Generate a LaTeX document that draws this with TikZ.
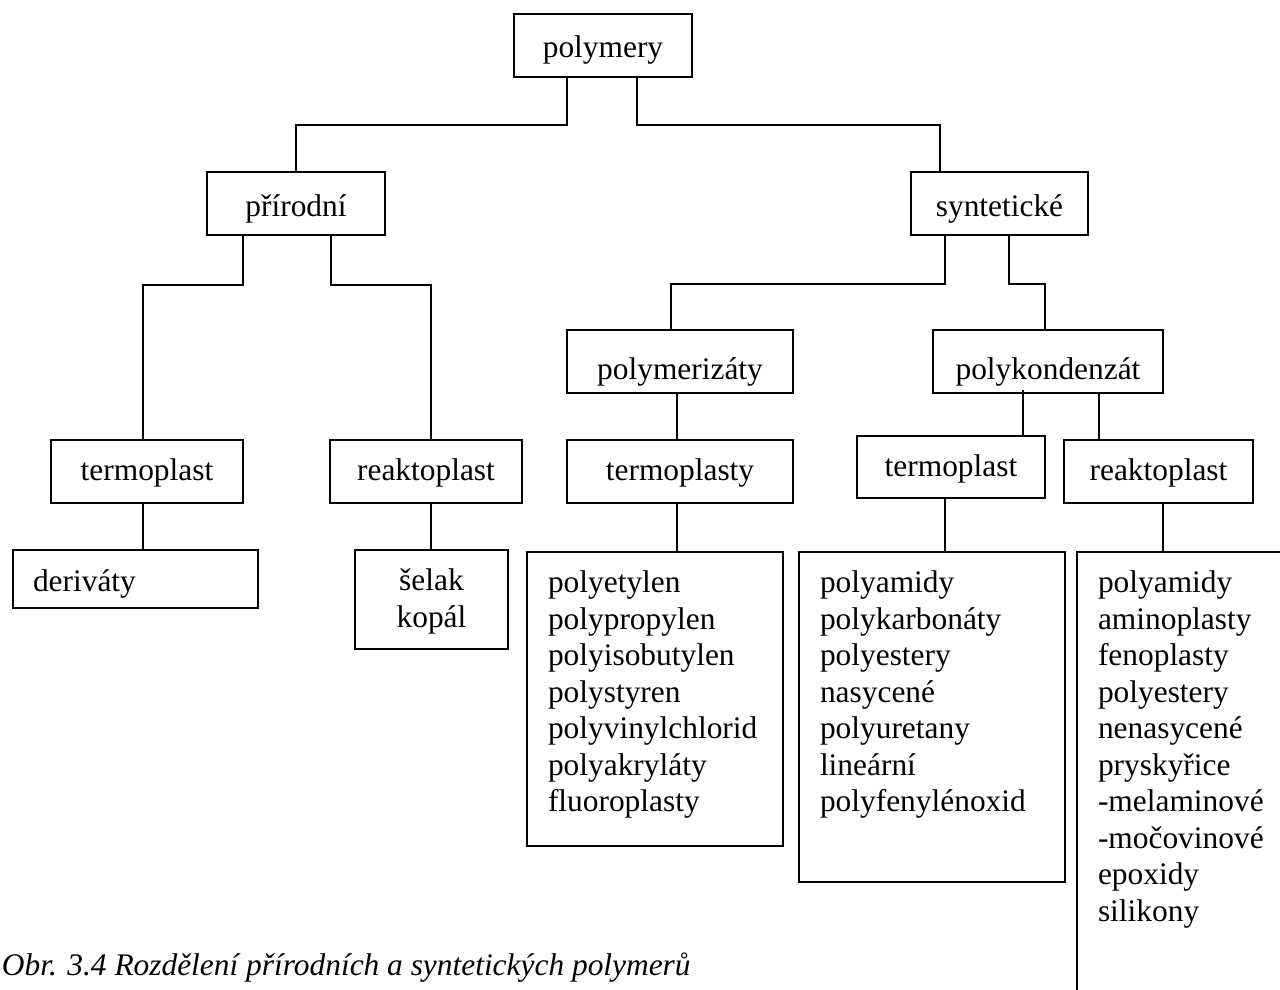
\documentclass[tikz,border=0pt]{standalone}
\usepackage{fontspec}
\setmainfont{Liberation Serif}
\usetikzlibrary{calc}
\newcommand{\boxlist}[3]{\parbox[t][#1][t]{#2}{\raggedright\strut #3}}

\begin{document}
\begin{tikzpicture}[x=0.5pt, y=-0.5pt,
  font=\fontsize{15.7}{18.25}\selectfont, line width=1pt,
  cat/.style={draw, anchor=north, inner sep=0pt, text height=22pt, text depth=9.5pt},
  low/.style={cat, text height=20pt, text depth=11.5pt},
  lst/.style={draw, anchor=north west, inner xsep=10.5pt, inner ysep=7.7pt}]
  \useasboundingbox (0,0) rectangle (1280,990);

  \node[cat, minimum width=89pt] (pol) at (603,13) {polymery};
  \node[cat, minimum width=89pt] (pri) at (296,171) {přírodní};
  \node[cat, minimum width=88.5pt] (syn) at (999.5,171) {syntetické};

  \node[low, minimum width=96pt] (tl) at (147,439) {termoplast};
  \node[low, minimum width=96pt] (rl) at (426,439) {reaktoplast};
  \node[draw, anchor=north west, inner xsep=10pt, inner ysep=0pt, text width=102.5pt,
        align=left, text height=20.5pt, text depth=8.5pt] (der) at (12,549) {deriváty};
  \node[lst, inner xsep=0pt] (sel) at (354,549)
    {\parbox[t][34.1pt][t]{76.5pt}{\centering\strut šelak\\kopál}};

  \node[cat, minimum width=113pt, text height=24.5pt, text depth=7pt] (pmz) at (680,329) {polymerizáty};
  \node[cat, minimum width=115pt, text height=24.5pt, text depth=7pt] (pkd) at (1048,329) {polykondenzát};
  \node[low, minimum width=113pt] (tpy) at (680,439) {termoplasty};
  \node[low, minimum width=94pt, text depth=11pt] (tr) at (951,435) {termoplast};
  \node[low, minimum width=94.5pt] (rr) at (1158.5,439) {reaktoplast};

  \node[lst] (la) at (526,551) {\boxlist{131.6pt}{107pt}{polyetylen\\polypropylen\\polyisobutylen\\polystyren\\polyvinylchlorid\\polyakryláty\\fluoroplasty}};
  \node[lst] (lb) at (798,551) {\boxlist{149.6pt}{112pt}{polyamidy\\polykarbonáty\\polyestery\\nasycené\\polyuretany\\lineární\\polyfenylénoxid}};
  \node[lst] (lc) at (1076,551) {\boxlist{213.6pt}{91pt}{polyamidy\\aminoplasty\\fenoplasty\\polyestery\\nenasycené\\pryskyřice\\-melaminové\\-močovinové\\epoxidy\\silikony}};

  \draw ($(pol.south)+(-36,0)$) -- ++(0,47) -| (pri.north);
  \draw ($(pol.south)+(34,0)$) -- ++(0,47) -| ($(syn.north)+(-60,0)$);
  \draw ($(pri.south)+(-53,0)$) -- ++(0,49) -| ($(tl.north)+(-4,0)$);
  \draw ($(pri.south)+(35,0)$) -- ++(0,49) -| ($(rl.north)+(5,0)$);
  \draw ($(syn.south)+(-54.5,0)$) -- ++(0,48) -| ($(pmz.north)+(-9,0)$);
  \draw ($(syn.south)+(9.5,0)$) -- ++(0,48) -| ($(pkd.north)+(-3,0)$);

  \draw ($(tl.south)+(-4,0)$) coordinate (c1) -- (c1 |- der.north);
  \draw ($(rl.south)+(5,0)$) coordinate (c2) -- (c2 |- sel.north);
  \draw ($(pmz.south)+(-3,0)$) -- ($(tpy.north)+(-3,0)$);
  \draw ($(pkd.south)+(-25,-4)$) coordinate (c3) -- (c3 |- tr.north);
  \draw ($(pkd.south)+(51,0)$) coordinate (c4) -- (c4 |- rr.north);
  \draw ($(tpy.south)+(-3,0)$) coordinate (c5) -- (c5 |- la.north);
  \draw ($(tr.south)+(-6,0)$) coordinate (c6) -- (c6 |- lb.north);
  \draw ($(rr.south)+(4.5,0)$) coordinate (c7) -- (c7 |- lc.north);

  \node[anchor=base west, inner sep=0pt, font=\fontsize{15.7}{18.25}\selectfont\itshape] (cap)
    at (1,975) {Obr. 3.4 Rozdělení přírodních a syntetických polymerů};
\end{tikzpicture}
\end{document}
